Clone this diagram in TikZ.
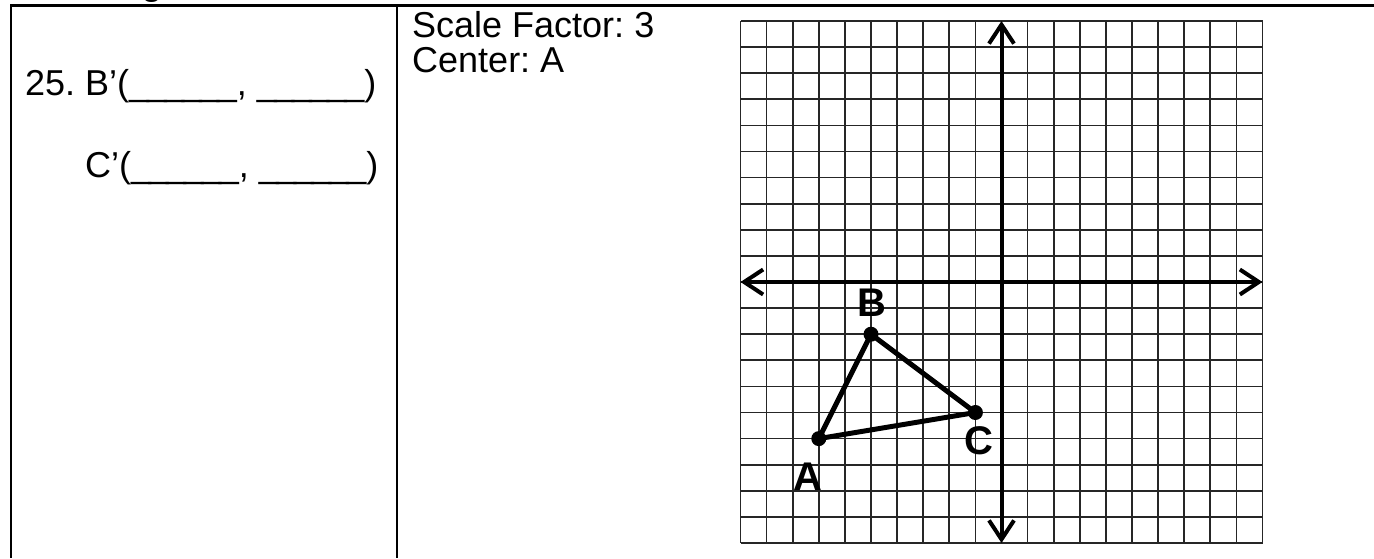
\documentclass[tikz,border=0pt]{standalone}
\usepackage{fontspec}
\setmainfont{Liberation Sans}
\frenchspacing
\usetikzlibrary{arrows.meta}
\newcommand\myblank{\_\kern-2.5pt\_\kern-2.5pt\_\kern-2.5pt\_\kern-2.5pt\_\kern-2.5pt\_}
\begin{document}
\begin{tikzpicture}[x=1pt,y=-1pt,
  rule/.style={line width=2.8pt},
  txt/.style={anchor=base west, inner sep=0pt, font=\fontsize{36}{40}\selectfont},
  gridline/.style={line width=1.7pt, black!85},
  axis/.style={line width=4pt, {Straight Barb[length=19pt,width=25pt,line width=4pt]}-{Straight Barb[length=19pt,width=25pt,line width=4pt]}},
  tri/.style={line width=5pt, line join=round},
  dot/.style={circle, fill=black, inner sep=0pt, minimum size=15pt},
  ptlabel/.style={font=\bfseries\fontsize{40}{40}\selectfont, inner sep=0pt}]
\useasboundingbox (0,0) rectangle (1374,558);
\fill[white] (0,0) rectangle (1374,558);
% heading fragment
\node[anchor=base, inner sep=0pt, font=\bfseries\fontsize{33}{40}\selectfont] (head) at (152,-5) {g};
% table rules
\coordinate (tl) at (11,5.7);
\coordinate (tr) at (1374,5.7);
\coordinate (bl) at (11,558);
\coordinate (dt) at (397,5.7);
\coordinate (db) at (397,558);
\draw[rule] (tr) -- (tl) -- (bl);
\draw[rule] (dt) -- (db);
% texts
\node[txt] (q25) at (25,95) {25. B’(\myblank, \myblank)};
\node[txt] (qc) at (85,177) {C’(\myblank, \myblank)};
\node[txt] (sf) at (412,37) {Scale Factor: 3};
\node[txt] (ctr) at (412,72) {Center: A};
% grid
\begin{scope}[shift={(1001.5,282)}, x=26.1pt, y=26.1pt]
  \draw[gridline, step=1] (-10,-10) grid (10,10);
  \coordinate (xl) at (-10,0);
  \coordinate (xr) at (10,0);
  \coordinate (yb) at (0,-10);
  \coordinate (yt) at (0,10);
  \draw[axis] (xl) -- (xr);
  \draw[axis] (yb) -- (yt);
  \node[dot] (A) at (-7,-6) {};
  \node[dot] (B) at (-5,-2) {};
  \node[dot] (C) at (-1,-5) {};
  \draw[tri] (A.center) -- (B.center) -- (C.center) -- cycle;
  \node[ptlabel] (lA) at (-7.4,-7.45) {A};
  \node[ptlabel] (lB) at (-4.95,-0.8) {B};
  \node[ptlabel] (lC) at (-0.85,-6.1) {C};
\end{scope}
\end{tikzpicture}
\end{document}
